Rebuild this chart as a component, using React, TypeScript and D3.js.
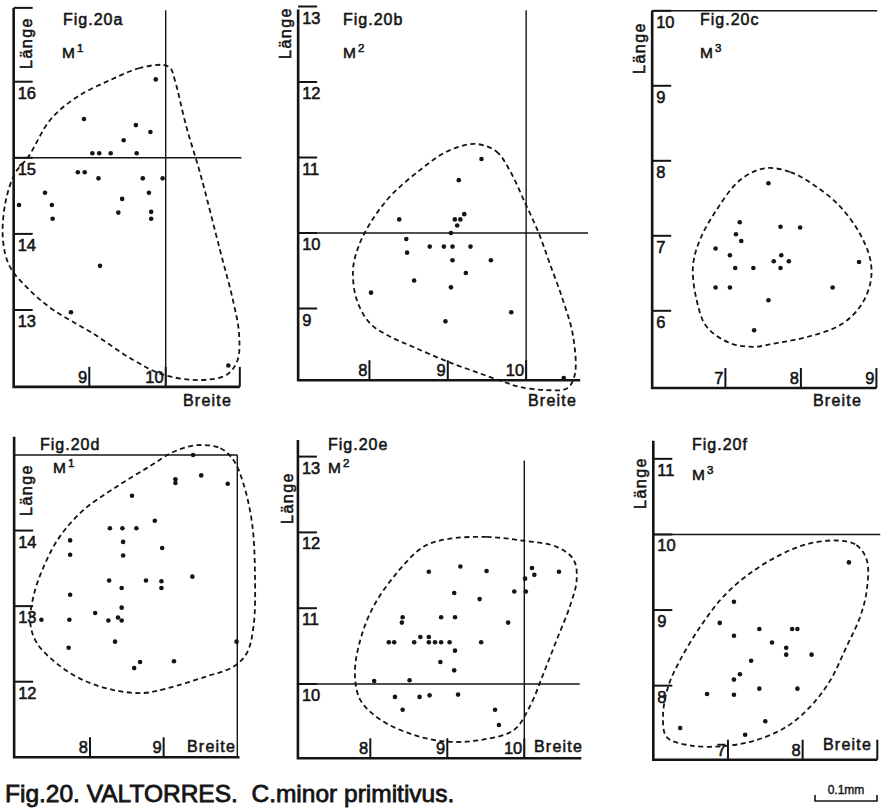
import React, { useEffect, useRef } from "react";
import * as d3 from "d3";

type Pt = [number, number]; // [Breite, Länge]

const ink = "#141414";
const font = "'Liberation Sans', Arial, sans-serif";

// Fig. 20a  M1
const aPoints: Pt[] = [
  [9.87, 16.03], [8.93, 15.51], [9.61, 15.43], [9.8, 15.34], [9.45, 15.23],
  [9.04, 15.06], [9.13, 15.06], [9.28, 15.06], [9.62, 15.06],
  [8.85, 14.81], [8.94, 14.81], [9.12, 14.73], [9.7, 14.73], [9.96, 14.73],
  [8.42, 14.54], [9.78, 14.54], [9.43, 14.46], [8.08, 14.38], [8.51, 14.38],
  [9.81, 14.29], [9.38, 14.28], [8.52, 14.2], [9.81, 14.2],
  [9.14, 13.58], [8.76, 12.97], [10.82, 12.27],
];
const aOutline: Pt[] = [
  [9.97, 16.22], [9.66, 16.18], [9.27, 16.02], [8.84, 15.8], [8.49, 15.5], [8.2, 15.01],
  [8.03, 14.8], [7.9, 14.4], [7.87, 13.92], [7.96, 13.57], [8.22, 13.26], [8.53, 13.0],
  [9.05, 12.69], [9.58, 12.34], [9.97, 12.15], [10.45, 12.08], [10.8, 12.15], [10.94, 12.34],
  [10.96, 12.69], [10.88, 13.13], [10.71, 13.79], [10.45, 14.8], [10.27, 15.41], [10.12, 16.02],
  [10.06, 16.18],
];
const aXTicks = [9, 10];
const aYTicks = [13, 14, 15, 16];

// Fig. 20b  M2
const bPoints: Pt[] = [
  [9.43, 10.98], [9.14, 10.7], [9.21, 10.25], [9.09, 10.18], [9.16, 10.18], [9.12, 10.1],
  [8.38, 10.18], [9.04, 10.0], [8.47, 9.92], [8.77, 9.82], [8.95, 9.82], [9.06, 9.82],
  [9.29, 9.82], [8.48, 9.74], [9.06, 9.64], [9.55, 9.64], [9.23, 9.47], [8.57, 9.37],
  [9.04, 9.28], [8.02, 9.21], [9.81, 8.95], [8.97, 8.83], [10.48, 8.08],
];
const bOutline: Pt[] = [
  [9.35, 11.18], [9.62, 11.08], [9.79, 10.83], [9.99, 10.39], [10.16, 10.0], [10.3, 9.6],
  [10.47, 9.11], [10.6, 8.63], [10.62, 8.12], [10.52, 7.94], [10.26, 7.92], [9.92, 7.96],
  [9.71, 8.03], [9.41, 8.14], [8.99, 8.3], [8.56, 8.49], [8.26, 8.63], [8.01, 8.8],
  [7.84, 9.11], [7.79, 9.51], [7.86, 9.82], [8.01, 10.13], [8.26, 10.48], [8.64, 10.83],
  [8.99, 11.08],
];
const bXTicks = [8, 9, 10];
const bYTicks = [9, 10, 11, 12, 13];

// Fig. 20c  M3
const cPoints: Pt[] = [
  [7.57, 7.7], [7.19, 7.18], [7.73, 7.12], [7.99, 7.11], [7.14, 7.02], [7.21, 6.93],
  [6.87, 6.83], [7.06, 6.74], [7.74, 6.74], [7.64, 6.66], [7.84, 6.66], [8.77, 6.65],
  [7.13, 6.57], [7.37, 6.57], [7.73, 6.57], [6.87, 6.31], [7.06, 6.31], [8.42, 6.31],
  [7.57, 6.14], [7.38, 5.74],
];
const cOutline: Pt[] = [
  [7.52, 7.9], [7.86, 7.85], [8.21, 7.65], [8.52, 7.39], [8.78, 7.03], [8.92, 6.68],
  [8.92, 6.37], [8.78, 6.05], [8.52, 5.81], [8.08, 5.65], [7.68, 5.57], [7.37, 5.52],
  [7.06, 5.57], [6.75, 5.79], [6.62, 6.14], [6.57, 6.59], [6.66, 6.94], [6.88, 7.34],
  [7.19, 7.74],
];
const cXTicks = [7, 8, 9];
const cYTicks = [6, 7, 8, 9, 10];

// Fig. 20d  M1
const dPoints: Pt[] = [
  [9.4, 15.0], [9.51, 14.73], [9.16, 14.68], [9.16, 14.63], [9.87, 14.62], [8.57, 14.46],
  [8.88, 14.13], [8.27, 14.03], [8.44, 14.03], [8.63, 14.03], [7.73, 13.87], [8.45, 13.85],
  [8.98, 13.77], [7.73, 13.68], [8.45, 13.67], [9.39, 13.39], [8.26, 13.34], [8.76, 13.34],
  [8.97, 13.33], [8.43, 13.24], [8.97, 13.24], [7.73, 13.15], [8.43, 12.98], [8.07, 12.91],
  [7.34, 12.82], [7.72, 12.82], [8.25, 12.81], [8.38, 12.85], [8.43, 12.81], [8.34, 12.53],
  [7.71, 12.45], [9.99, 12.53], [8.68, 12.26], [8.6, 12.18], [9.14, 12.27],
];
const dOutline: Pt[] = [
  [9.45, 15.13], [9.77, 15.09], [9.95, 14.93], [10.08, 14.63], [10.2, 14.1], [10.24, 13.43],
  [10.22, 12.73], [10.13, 12.38], [9.95, 12.2], [9.58, 12.07], [9.04, 11.91], [8.72, 11.85],
  [8.32, 11.89], [7.91, 12.02], [7.55, 12.24], [7.28, 12.51], [7.19, 12.77], [7.23, 13.12],
  [7.37, 13.52], [7.59, 13.92], [7.91, 14.27], [8.36, 14.58], [8.81, 14.85], [9.13, 15.04],
];
const dXTicks = [8, 9];
const dYTicks = [12, 13, 14];

// Fig. 20e  M2
const ePoints: Pt[] = [
  [9.17, 11.55], [8.76, 11.48], [9.51, 11.49], [10.1, 11.53], [10.13, 11.44], [10.45, 11.48],
  [10.01, 11.39], [9.09, 11.2], [9.87, 11.22], [10.02, 11.22], [9.42, 11.12], [8.42, 10.88],
  [8.41, 10.81], [8.92, 10.88], [9.1, 10.88], [9.79, 10.81], [8.65, 10.62], [8.76, 10.62],
  [8.24, 10.55], [8.31, 10.55], [8.57, 10.55], [8.76, 10.55], [8.84, 10.55], [8.92, 10.55],
  [9.03, 10.55], [9.44, 10.55], [9.1, 10.44], [8.91, 10.29], [9.09, 10.18], [8.05, 10.04],
  [8.51, 10.05], [8.32, 9.83], [8.64, 9.83], [8.77, 9.85], [9.14, 9.86], [8.42, 9.66],
  [9.62, 9.66], [9.67, 9.46],
];
const eOutline: Pt[] = [
  [8.99, 11.91], [9.51, 11.94], [9.99, 11.89], [10.42, 11.81], [10.64, 11.64], [10.68, 11.37],
  [10.59, 11.02], [10.42, 10.58], [10.25, 10.14], [10.07, 9.7], [9.86, 9.39], [9.42, 9.26],
  [8.99, 9.24], [8.56, 9.33], [8.13, 9.53], [7.87, 9.79], [7.8, 10.14], [7.87, 10.58],
  [8.04, 11.02], [8.34, 11.46], [8.69, 11.81],
];
const eXTicks = [8, 9, 10];
const eYTicks = [10, 11, 12, 13];

// Fig. 20f  M3
const fPoints: Pt[] = [
  [8.62, 9.63], [7.08, 9.11], [6.89, 8.83], [7.42, 8.75], [7.86, 8.75], [7.93, 8.75],
  [7.08, 8.66], [7.59, 8.57], [7.78, 8.5], [7.78, 8.41], [8.12, 8.41], [7.31, 8.33],
  [7.16, 8.15], [7.08, 8.08], [7.42, 7.96], [7.93, 7.96], [6.72, 7.89], [7.08, 7.88],
  [7.5, 7.53], [6.36, 7.44], [7.23, 7.35],
];
const fOutline: Pt[] = [
  [8.46, 9.92], [8.72, 9.86], [8.86, 9.66], [8.86, 9.27], [8.77, 8.91], [8.59, 8.52],
  [8.37, 8.07], [8.1, 7.72], [7.79, 7.46], [7.38, 7.28], [6.94, 7.2], [6.49, 7.21],
  [6.18, 7.32], [6.13, 7.59], [6.2, 7.99], [6.36, 8.34], [6.63, 8.78], [6.94, 9.18],
  [7.3, 9.49], [7.7, 9.73], [8.05, 9.87],
];
const fXTicks = [7, 8];
const fYTicks = [8, 9, 10, 11];

const figTitle = "Fig.20. VALTORRES.  C.minor primitivus.";
const scaleLabel = "0.1mm";

// layout of the six scanned panels (scale calibration + label placement)
const panels = [
  {
    fig: "Fig.20a", molar: "1", points: aPoints, outline: aOutline, xTicks: aXTicks, yTicks: aYTicks,
    xs: { domain: [9, 10], range: [89.3, 165.7], min: 8.01, max: 10.97 },
    ys: { domain: [13, 16], range: [310, 81.7], min: 11.99, max: 16.97 },
    refH: { v: 15, to: 10.99 }, refV: { v: 10, to: 16.94 },
    xEndTick: true, yTopTick: true,
    figPos: [63, 25], mPos: [62, 57.5], langePos: [32, 43], breitePos: [232, 406],
  },
  {
    fig: "Fig.20b", molar: "2", points: bPoints, outline: bOutline, xTicks: bXTicks, yTicks: bYTicks,
    xs: { domain: [8, 10], range: [369.45, 526.15], min: 7.09, max: 10.69 },
    ys: { domain: [9, 12], range: [308.5, 82], min: 8.05, max: 12.96 },
    refH: { v: 10, to: 10.79 }, refV: { v: 10, to: 12.95 },
    xEndTick: false, yTopTick: false,
    figPos: [343, 25], mPos: [343, 57.5], langePos: [291, 33], breitePos: [577, 406],
  },
  {
    fig: "Fig.20c", molar: "3", points: cPoints, outline: cOutline, xTicks: cXTicks, yTicks: cYTicks,
    xs: { domain: [7, 9], range: [725.4, 876.4], min: 6.03, max: 9.0 },
    ys: { domain: [6, 10], range: [310.8, 10.8], min: 4.97, max: 10 },
    refH: { v: 10, to: 9.01 }, refV: null,
    xEndTick: false, yTopTick: false,
    figPos: [700, 25], mPos: [700, 57.5], langePos: [645, 48], breitePos: [862, 406],
  },
  {
    fig: "Fig.20d", molar: "1", points: dPoints, outline: dOutline, xTicks: dXTicks, yTicks: dYTicks,
    xs: { domain: [8, 10], range: [90, 237.3], min: 6.97, max: 10.03 },
    ys: { domain: [12, 15], range: [681.7, 455], min: 11.0, max: 15.24 },
    refH: { v: 15, to: 10 }, refV: { v: 10, to: 15 },
    xEndTick: false, yTopTick: false,
    figPos: [40, 450], mPos: [53, 473], langePos: [32, 490], breitePos: [236, 752],
  },
  {
    fig: "Fig.20e", molar: "2", points: ePoints, outline: eOutline, xTicks: eXTicks, yTicks: eYTicks,
    xs: { domain: [8, 10], range: [370.3, 524.3], min: 7.06, max: 10.74 },
    ys: { domain: [10, 13], range: [684, 456.6], min: 9.02, max: 13.22 },
    refH: { v: 10, to: 10.72 }, refV: { v: 10, to: 12.95 },
    xEndTick: false, yTopTick: false,
    figPos: [328, 450], mPos: [328, 473], langePos: [293, 498], breitePos: [583, 752],
  },
  {
    fig: "Fig.20f", molar: "3", points: fPoints, outline: fOutline, xTicks: fXTicks, yTicks: fYTicks,
    xs: { domain: [6, 9], range: [653.3, 877.3], min: 6, max: 9 },
    ys: { domain: [8, 11], range: [685.65, 458.85], min: 7.02, max: 11.24 },
    refH: { v: 10, to: 9.04 }, refV: null,
    xEndTick: true, yTopTick: false,
    figPos: [692, 450], mPos: [692, 480], langePos: [646, 483], breitePos: [872, 750],
  },
];

// the scanned lettering is heavier than the regular face
function lettering(sel: any, size: number, weight = 0.55) {
  return sel
    .attr("font-family", font)
    .attr("font-size", size)
    .attr("fill", ink)
    .attr("stroke", ink)
    .attr("stroke-width", weight);
}

function drawPanel(svg: any, p: any) {
  const x = d3.scaleLinear().domain(p.xs.domain).range(p.xs.range);
  const y = d3.scaleLinear().domain(p.ys.domain).range(p.ys.range);
  const g = svg.append("g");

  const x0 = x(p.xs.min);
  const x1 = x(p.xs.max);
  const y0 = y(p.ys.min);
  const y1 = y(p.ys.max);

  // reference lines (mean values)
  if (p.refH) {
    g.append("line")
      .attr("x1", x0).attr("x2", x(p.refH.to))
      .attr("y1", y(p.refH.v)).attr("y2", y(p.refH.v))
      .attr("stroke", ink).attr("stroke-width", 1.4);
  }
  if (p.refV) {
    g.append("line")
      .attr("x1", x(p.refV.v)).attr("x2", x(p.refV.v))
      .attr("y1", y0).attr("y2", y(p.refV.to))
      .attr("stroke", ink).attr("stroke-width", 1.4);
  }

  // dashed envelope
  const line = d3
    .line<Pt>()
    .x((d) => x(d[0]))
    .y((d) => y(d[1]))
    .curve(d3.curveCatmullRomClosed.alpha(0.5));
  g.append("path")
    .datum(p.outline)
    .attr("d", line)
    .attr("fill", "none")
    .attr("stroke", ink)
    .attr("stroke-width", 1.8)
    .attr("stroke-dasharray", "5 3.5");

  // axes
  g.append("path")
    .attr("d", `M${x0},${y1}V${y0}H${x1}`)
    .attr("fill", "none")
    .attr("stroke", ink)
    .attr("stroke-width", 2.6);

  // y ticks: short bar inside, label under it
  const yT = [...p.yTicks];
  if (p.yTopTick) yT.push(p.ys.max);
  yT.forEach((t: number) => {
    g.append("line")
      .attr("x1", x0).attr("x2", x0 + 19)
      .attr("y1", y(t)).attr("y2", y(t))
      .attr("stroke", ink).attr("stroke-width", 2);
  });
  lettering(
    g.selectAll(".ylab")
      .data(p.yTicks)
      .join("text")
      .attr("x", x0 + 4)
      .attr("y", (d: number) => y(d) + 17),
    16.5
  ).text((d: number) => d);

  // x ticks: bar rising from the axis, label to its left
  const xT = [...p.xTicks];
  if (p.xEndTick) xT.push(p.xs.max);
  xT.forEach((t: number) => {
    g.append("line")
      .attr("x1", x(t)).attr("x2", x(t))
      .attr("y1", y0).attr("y2", y0 - 20)
      .attr("stroke", ink).attr("stroke-width", 2);
  });
  lettering(
    g.selectAll(".xlab")
      .data(p.xTicks)
      .join("text")
      .attr("x", (d: number) => x(d) - 2)
      .attr("y", y0 - 4)
      .attr("text-anchor", "end"),
    16.5
  ).text((d: number) => d);

  // specimens
  g.append("g")
    .selectAll("circle")
    .data(p.points)
    .join("circle")
    .attr("cx", (d: Pt) => x(d[0]))
    .attr("cy", (d: Pt) => y(d[1]))
    .attr("r", 2.3)
    .attr("fill", ink);

  // captions
  lettering(g.append("text").attr("x", p.figPos[0]).attr("y", p.figPos[1]), 16)
    .attr("letter-spacing", 1)
    .text(p.fig);

  const m = lettering(g.append("text").attr("x", p.mPos[0]).attr("y", p.mPos[1]), 15.5);
  m.append("tspan").text("M");
  m.append("tspan").attr("dx", 2).attr("dy", -6).attr("font-size", 11.5).text(p.molar);

  lettering(
    g.append("text")
      .attr("transform", `translate(${p.langePos[0]},${p.langePos[1]}) rotate(-90)`)
      .attr("text-anchor", "middle"),
    16
  )
    .attr("letter-spacing", 1.5)
    .text("Länge");

  lettering(
    g.append("text")
      .attr("x", p.breitePos[0]).attr("y", p.breitePos[1])
      .attr("text-anchor", "end"),
    16
  )
    .attr("letter-spacing", 1.2)
    .text("Breite");
}

export default function App() {
  const svgRef = useRef<SVGSVGElement>(null);

  useEffect(() => {
    const svg = d3.select(svgRef.current);
    svg.selectAll("*").remove();

    panels.forEach((p) => drawPanel(svg, p));

    lettering(svg.append("text").attr("x", 5).attr("y", 802), 24.5, 0.8)
      .style("white-space", "pre")
      .attr("xml:space", "preserve")
      .text(figTitle);

    // scale bar
    lettering(
      svg.append("text").attr("x", 846).attr("y", 794).attr("text-anchor", "middle"),
      12,
      0.4
    ).text(scaleLabel);
    svg.append("path")
      .attr("d", "M815,795V801H877V795")
      .attr("fill", "none")
      .attr("stroke", ink)
      .attr("stroke-width", 1.6);
  }, []);

  return (
    <svg
      ref={svgRef}
      width={883}
      height={810}
      style={{ position: "absolute", left: 0, top: 0, background: "#fff" }}
    />
  );
}
